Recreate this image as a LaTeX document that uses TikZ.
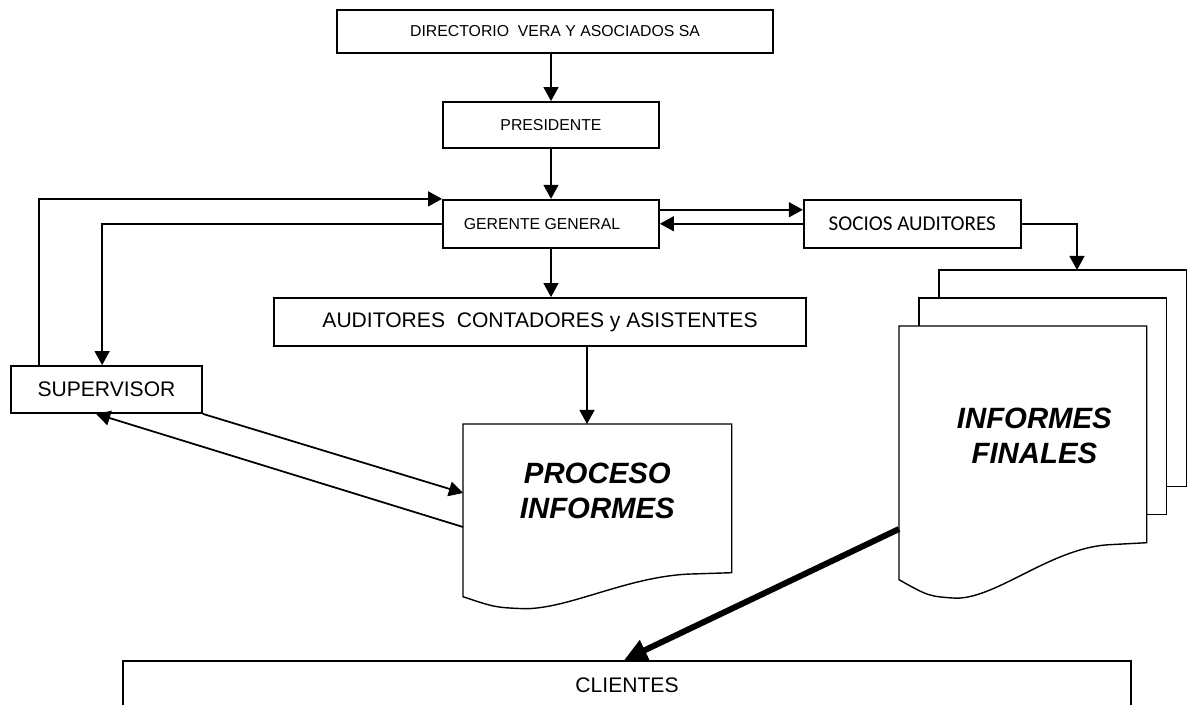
\documentclass[tikz,border=0pt]{standalone}
\usepackage{fontspec}
\setmainfont{Liberation Sans}
\newfontfamily\calibri{Carlito}
\usetikzlibrary{positioning,calc,arrows.meta}
\pgfdeclarelayer{fondo}
\pgfsetlayers{fondo,main}

% hoja de documento con borde inferior ondulado: #1 nodo, #2 caida del borde
\newcommand{\hojaonda}[2]{%
  \draw[hoja] (#1.north west) -- (#1.north east) -- (#1.south east)
    -- ($(#1.south west)!0.86!(#1.south east)+(0,{0.05*#2})$)
    .. controls ($(#1.south west)!0.62!(#1.south east)+(0,{0.1*#2})$)
           and ($(#1.south west)!0.40!(#1.south east)+(0,{1.5*#2})$)
    .. ($(#1.south west)!0.23!(#1.south east)+(0,{1.5*#2})$)
    .. controls ($(#1.south west)!0.12!(#1.south east)+(0,{1.45*#2})$)
    .. ($(#1.south west)+(0,#2)$) -- cycle;}
% texto de dos lineas dentro de una hoja, subido #1
\newcommand{\titulohoja}[2]{\raisebox{#1}[\height][\depth]{\begin{tabular}{@{}c@{}}#2\end{tabular}}}

\begin{document}
\begin{tikzpicture}[x=0.2mm, y=-0.2mm,
    caja/.style={rectangle, draw, line width=1pt, inner sep=0pt, font=\fontsize{9}{11}\selectfont},
    cajag/.style={caja, font=\fontsize{12}{14}\selectfont},
    hoja/.style={draw, fill=white, line width=0.8pt},
    doc/.style={rectangle, inner sep=0pt, font=\fontsize{16.7}{20}\selectfont\bfseries\itshape},
    flecha/.style={-{Triangle[length=8pt,width=8.5pt]}, line width=1pt},
    gruesa/.style={-{Triangle[length=13pt,width=12pt]}, line width=3.4pt}]
  \useasboundingbox (0,0) rectangle (1190,704);

  % direccion
  \node[caja, minimum width=87.2mm, minimum height=8.6mm] (dir) at (555,31.5) {DIRECTORIO\ \ VERA Y ASOCIADOS SA};
  \node[caja, minimum width=43.2mm, minimum height=9.2mm] (pres) at (551,125) {PRESIDENTE};
  \node[caja, minimum width=43.2mm, minimum height=9.6mm, below=10mm of pres] (ger) {GERENTE GENERAL\hspace*{3.6mm}};
  \node[cajag, font=\fontsize{12}{14}\selectfont\calibri, minimum width=43.4mm, minimum height=9.6mm, right=28.6mm of ger] (socios) {SOCIOS AUDITORES};
  \node[cajag, minimum width=106.4mm, minimum height=9.6mm] (aud) at (540,322) {AUDITORES\ \ CONTADORES y ASISTENTES};
  \node[cajag, minimum width=38.2mm, minimum height=9.4mm] (sup) at (106.5,389.5) {SUPERVISOR};

  % documentos
  \node[doc, minimum width=53.6mm, minimum height=29.6mm, anchor=north west] (proc) at (463,424)
    {\titulohoja{0.8mm}{PROCESO\\INFORMES}};
  \node[doc, minimum width=49.4mm, minimum height=43.2mm, anchor=north west] (fin3) at (939,270) {};
  \node[doc, minimum width=49.4mm, minimum height=43.2mm, anchor=north west] (fin2) at (919,298) {};
  \node[doc, minimum width=49.4mm, minimum height=43.2mm, anchor=north west] (fin1) at (899,326)
    {\hspace*{4.6mm}\titulohoja{-0.9mm}{INFORMES\\FINALES}};
  \begin{pgfonlayer}{fondo}
    \hojaonda{proc}{24}
    \draw[hoja] (fin3.north west) rectangle (fin3.south east);
    \draw[hoja] (fin2.north west) rectangle (fin2.south east);
    \hojaonda{fin1}{37}
  \end{pgfonlayer}

  \node[cajag, minimum width=201.6mm, minimum height=9.6mm, anchor=north] (cli) at (627,660) {CLIENTES};

  % conexiones
  \coordinate (entrada) at ($(proc.north west)+(124,0)$);
  \draw[flecha] (pres.north |- dir.south) -- (pres.north);
  \draw[flecha] (pres) -- (ger);
  \draw[flecha] (ger.south) -- (ger.south |- aud.north);
  \draw[flecha] ($(ger.east)+(0,-14)$) -- ($(socios.west)+(0,-14)$);
  \draw[flecha] (socios.west) -- (ger.east);
  \draw[flecha] ($(sup.north west)+(29,0)$) |- (ger.north west);
  \draw[flecha] (ger.west) -| ($(sup.north west)+(92,0)$);
  \draw[flecha] (entrada |- aud.south) -- (entrada);
  \draw[flecha] (sup.south east) -- ($(proc.north west)+(0,69)$);
  \draw[flecha] ($(proc.north west)+(0,103)$) -- ($(sup.south west)+(86,0)$);
  \draw[flecha] (socios.east) -| ($(fin3.north west)+(138,0)$);
  \draw[gruesa] ($(fin1.north west)+(0,203)$) -- ($(cli.north west)+(502,0)$);
\end{tikzpicture}
\end{document}
